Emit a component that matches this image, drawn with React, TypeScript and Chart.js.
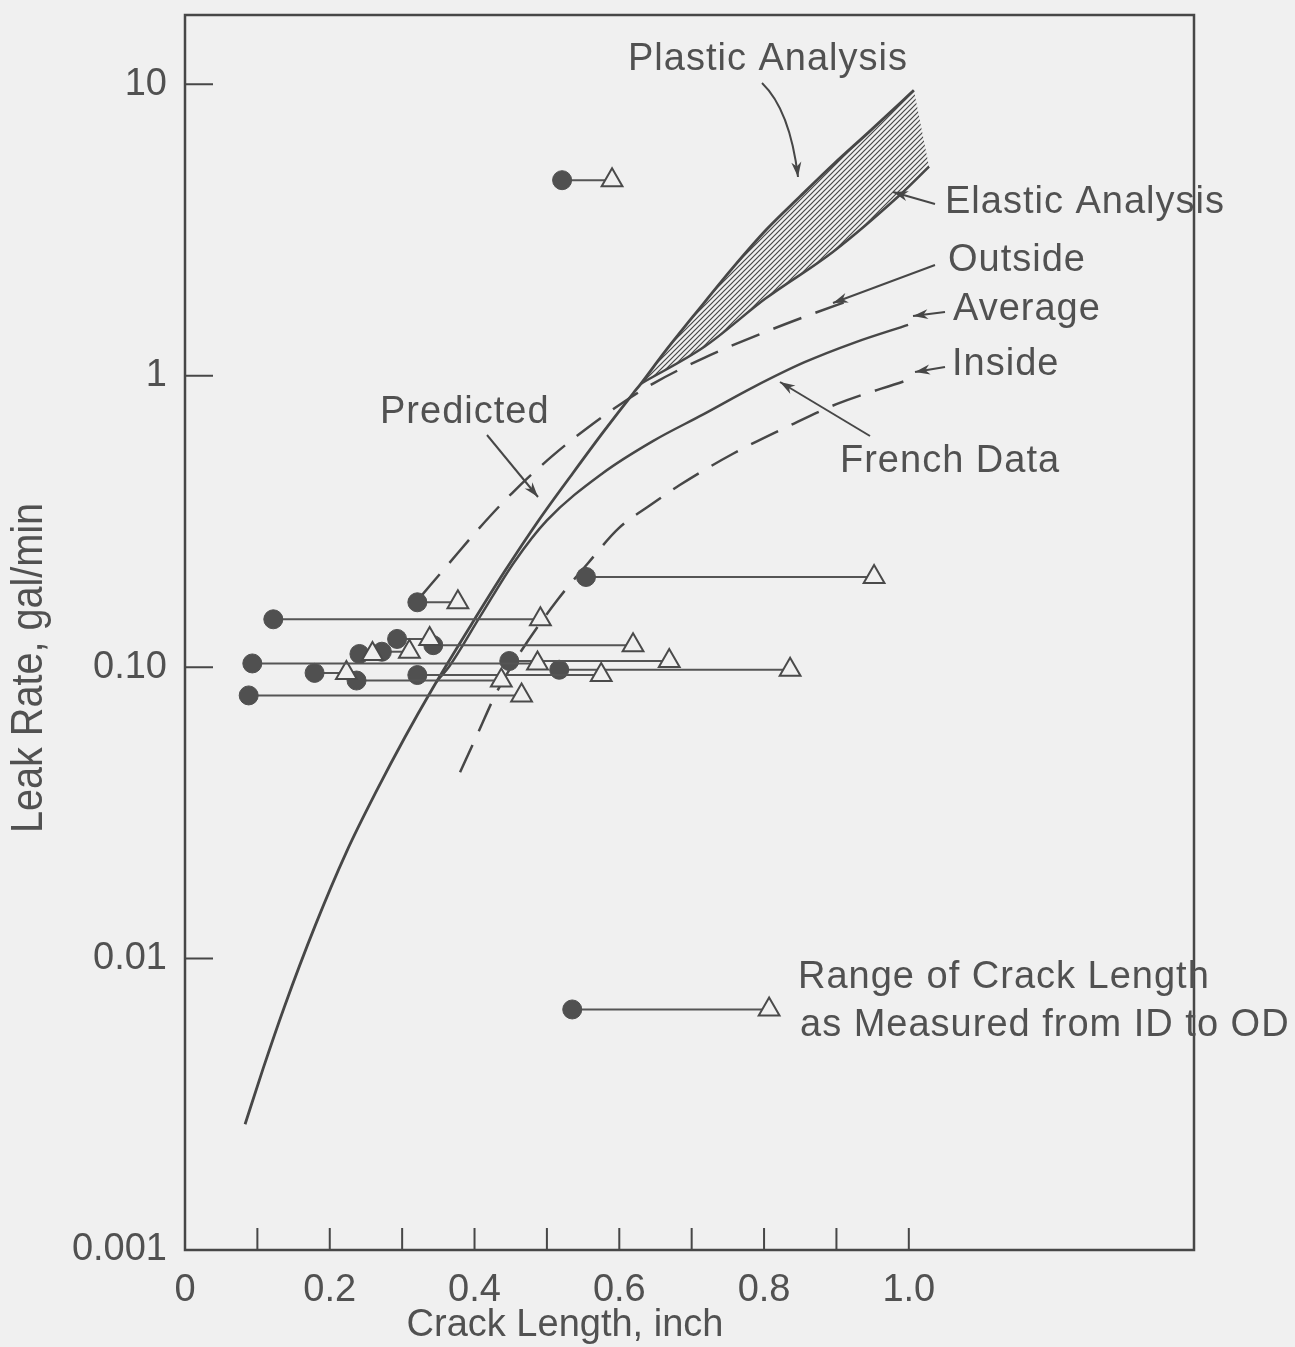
import React, { useEffect, useRef } from 'react';
import { Chart, registerables } from 'chart.js';

Chart.register(...registerables);

// ---- axis ticks ----
const xTickValues = [0, 0.2, 0.4, 0.6, 0.8, 1.0];
const xTickLabels = ['0', '0.2', '0.4', '0.6', '0.8', '1.0'];
const xTickMarks = [0.1, 0.2, 0.3, 0.4, 0.5, 0.6, 0.7, 0.8, 0.9, 1.0];
const yTickValues = [0.001, 0.01, 0.1, 1, 10];
const yTickLabels = ['0.001', '0.01', '0.10', '1', '10'];
const yTickMarks = [0.01, 0.1, 1, 10];

// ---- Predicted curve (continues as the Plastic Analysis upper bound) ----
const predictedX = [0.083, 0.108, 0.137, 0.180, 0.223, 0.266, 0.304, 0.341, 0.394, 0.441, 0.489, 0.536, 0.578, 0.620, 0.630, 0.662, 0.709, 0.757, 0.803, 0.850, 0.897, 0.944, 0.990, 1.007];
const predictedY = [0.0027, 0.0042, 0.0068, 0.0130, 0.0232, 0.0382, 0.0576, 0.0837, 0.138, 0.212, 0.320, 0.464, 0.642, 0.876, 0.94, 1.20, 1.68, 2.35, 3.17, 4.13, 5.35, 6.83, 8.72, 9.55];

// ---- Elastic Analysis (lower bound of the hatched band) ----
const elasticX = [0.630, 0.718, 0.802, 0.895, 0.988, 1.028];
const elasticY = [0.94, 1.26, 1.84, 2.66, 4.18, 5.22];

// ---- Outside (dashed) ----
const outsideX = [0.325, 0.364, 0.406, 0.452, 0.508, 0.554, 0.599, 0.648, 0.718, 0.801, 0.857, 0.926];
const outsideY = [0.174, 0.226, 0.299, 0.396, 0.532, 0.657, 0.791, 0.944, 1.155, 1.411, 1.597, 1.845];

// ---- French Data / Average (solid) ----
const frenchX = [0.347, 0.366, 0.408, 0.455, 0.500, 0.577, 0.647, 0.716, 0.786, 0.856, 0.925, 0.999];
const frenchY = [0.0889, 0.1014, 0.1496, 0.2297, 0.319, 0.463, 0.598, 0.737, 0.916, 1.113, 1.30, 1.495];

// ---- Inside (dashed) ----
const insideX = [0.380, 0.405, 0.430, 0.462, 0.515, 0.557, 0.599, 0.645, 0.683, 0.757, 0.836, 0.900, 0.993];
const insideY = [0.0436, 0.0596, 0.0815, 0.1112, 0.1707, 0.2278, 0.2994, 0.363, 0.421, 0.540, 0.676, 0.799, 0.957];

// ---- Measured leaks: crack length range ID (circle) to OD (triangle) ----
const pairLeakRate = [4.69, 0.204, 0.167, 0.146, 0.103, 0.080, 0.0956, 0.111, 0.113, 0.125, 0.119, 0.090, 0.094, 0.105, 0.098];
const pairCircleX = [0.521, 0.554, 0.321, 0.122, 0.093, 0.088, 0.179, 0.241, 0.272, 0.293, 0.343, 0.237, 0.321, 0.448, 0.517];
const pairTriangleX = [0.590, 0.952, 0.377, 0.491, 0.487, 0.465, 0.223, 0.259, 0.310, 0.338, 0.619, 0.437, 0.575, 0.669, 0.836];

// ---- key sample ----
const keyLeakRate = [0.00669];
const keyCircleX = [0.535];
const keyTriangleX = [0.807];

const FONT = '"Liberation Sans", Arial, Helvetica, sans-serif';
const INK = '#474747';
const TEXT = '#515151';
const BG = '#f0f0f0';

const toPts = (xs: number[], ys: number[]) => xs.map((x, i) => ({ x, y: ys[i] }));

function drawArrowHead(ctx: CanvasRenderingContext2D, fx: number, fy: number, tx: number, ty: number) {
  const a = Math.atan2(ty - fy, tx - fx);
  const len = 15;
  const w = 5;
  ctx.beginPath();
  ctx.moveTo(tx, ty);
  ctx.lineTo(tx - len * Math.cos(a) + w * Math.sin(a), ty - len * Math.sin(a) - w * Math.cos(a));
  ctx.lineTo(tx - len * 0.7 * Math.cos(a), ty - len * 0.7 * Math.sin(a));
  ctx.lineTo(tx - len * Math.cos(a) - w * Math.sin(a), ty - len * Math.sin(a) + w * Math.cos(a));
  ctx.closePath();
  ctx.fill();
}

function arrow(ctx: CanvasRenderingContext2D, x1: number, y1: number, x2: number, y2: number) {
  ctx.beginPath();
  ctx.moveTo(x1, y1);
  ctx.lineTo(x2, y2);
  ctx.stroke();
  drawArrowHead(ctx, x1, y1, x2, y2);
}

function label(ctx: CanvasRenderingContext2D, s: string, x: number, y: number) {
  ctx.save();
  ctx.font = `38px ${FONT}`;
  (ctx as any).letterSpacing = '1px';
  ctx.fillStyle = TEXT;
  ctx.textAlign = 'left';
  ctx.textBaseline = 'alphabetic';
  ctx.fillText(s, x, y);
  ctx.restore();
}

const decor = {
  id: 'decor',
  beforeDraw(chart: any) {
    const { ctx, width, height } = chart;
    ctx.save();
    ctx.fillStyle = BG;
    ctx.fillRect(0, 0, width, height);
    ctx.restore();
  },
  beforeDatasetsDraw(chart: any) {
    const { ctx } = chart;
    const xs = chart.scales.x;
    const ys = chart.scales.y;
    const start = predictedX.indexOf(elasticX[0]);
    const pc = document.createElement('canvas');
    pc.width = 5;
    pc.height = 5;
    const p = pc.getContext('2d')!;
    p.strokeStyle = INK;
    p.lineWidth = 1.2;
    p.beginPath();
    p.moveTo(0, 5); p.lineTo(5, 0);
    p.moveTo(-1, 1); p.lineTo(1, -1);
    p.moveTo(4, 6); p.lineTo(6, 4);
    p.stroke();
    const pattern = ctx.createPattern(pc, 'repeat');
    ctx.save();
    ctx.beginPath();
    for (let i = start; i < predictedX.length; i++) {
      const px = xs.getPixelForValue(predictedX[i]);
      const py = ys.getPixelForValue(predictedY[i]);
      if (i === start) ctx.moveTo(px, py); else ctx.lineTo(px, py);
    }
    for (let i = elasticX.length - 1; i >= 0; i--) {
      ctx.lineTo(xs.getPixelForValue(elasticX[i]), ys.getPixelForValue(elasticY[i]));
    }
    ctx.closePath();
    ctx.fillStyle = pattern;
    ctx.fill();
    ctx.restore();
  },
  afterDraw(chart: any) {
    const { ctx, chartArea: a } = chart;
    const xs = chart.scales.x;
    const ys = chart.scales.y;
    ctx.save();
    ctx.strokeStyle = INK;
    ctx.fillStyle = INK;
    ctx.lineWidth = 2.5;
    ctx.strokeRect(a.left, a.top, a.right - a.left, a.bottom - a.top);
    ctx.lineWidth = 2;
    ctx.beginPath();
    xTickMarks.forEach((v) => {
      const px = xs.getPixelForValue(v);
      ctx.moveTo(px, a.bottom);
      ctx.lineTo(px, a.bottom - 22);
    });
    yTickMarks.forEach((v) => {
      const py = ys.getPixelForValue(v);
      ctx.moveTo(a.left, py);
      ctx.lineTo(a.left + 28, py);
    });
    ctx.stroke();

    // axis titles
    ctx.fillStyle = TEXT;
    ctx.font = `38px ${FONT}`;
    ctx.textAlign = 'center';
    ctx.textBaseline = 'alphabetic';
    ctx.fillText('Crack Length, inch', 565, 1336);
    ctx.save();
    ctx.translate(42, 668);
    ctx.rotate(-Math.PI / 2);
    ctx.scale(0.9, 1);
    ctx.font = `44px ${FONT}`;
    ctx.fillText('Leak Rate, gal/min', 0, 0);
    ctx.restore();

    // annotations
    label(ctx, 'Plastic Analysis', 628, 70);
    label(ctx, 'Elastic Analysis', 945, 213);
    label(ctx, 'Outside', 948, 271);
    label(ctx, 'Average', 953, 320);
    label(ctx, 'Inside', 952, 375);
    label(ctx, 'French Data', 840, 472);
    label(ctx, 'Predicted', 380, 423);
    label(ctx, 'Range of Crack Length', 798, 988);
    label(ctx, 'as Measured from ID to OD', 800, 1036);

    ctx.strokeStyle = INK;
    ctx.fillStyle = INK;
    ctx.lineWidth = 2;
    ctx.beginPath();
    ctx.moveTo(762, 83);
    ctx.quadraticCurveTo(790, 110, 798, 177);
    ctx.stroke();
    drawArrowHead(ctx, 795, 150, 798, 177);
    arrow(ctx, 935, 204, 893, 192);
    arrow(ctx, 935, 265, 833, 303);
    arrow(ctx, 945, 312, 913, 316);
    arrow(ctx, 945, 367, 915, 372);
    arrow(ctx, 870, 436, 780, 382);
    arrow(ctx, 487, 435, 538, 497);
    ctx.restore();
  },
};

const curveStyle = {
  borderColor: INK,
  borderWidth: 2.5,
  pointRadius: 0,
  fill: false,
  cubicInterpolationMode: 'monotone' as const,
};

const pairStyle = {
  borderColor: '#555555',
  borderWidth: 2,
  pointStyle: ['circle', 'triangle'],
  pointRadius: [9.5, 12],
  pointBackgroundColor: ['#505050', BG],
  pointBorderColor: ['#505050', '#4a4a4a'],
  pointBorderWidth: [1, 2],
  fill: false,
  tension: 0,
};

export default function App() {
  const ref = useRef<HTMLCanvasElement>(null);
  useEffect(() => {
    document.body.style.margin = '0';
    document.body.style.background = BG;
    const pairSets = pairLeakRate.map((r, i) => ({
      data: [{ x: pairCircleX[i], y: r }, { x: pairTriangleX[i], y: r }],
      ...pairStyle,
    }));
    const keySets = keyLeakRate.map((r, i) => ({
      data: [{ x: keyCircleX[i], y: r }, { x: keyTriangleX[i], y: r }],
      ...pairStyle,
    }));
    const chart = new Chart(ref.current!, {
      type: 'line',
      data: {
        datasets: [
          ...pairSets,
          ...keySets,
          { data: toPts(predictedX, predictedY), ...curveStyle, borderWidth: 2.8 },
          { data: toPts(elasticX, elasticY), ...curveStyle },
          { data: toPts(outsideX, outsideY), ...curveStyle, borderDash: [30, 15] },
          { data: toPts(frenchX, frenchY), ...curveStyle },
          { data: toPts(insideX, insideY), ...curveStyle, borderDash: [30, 15] },
        ] as any,
      },
      options: {
        responsive: false,
        animation: false,
        events: [],
        layout: { padding: { top: 15, right: 101, bottom: 0, left: 0 } },
        plugins: { legend: { display: false }, tooltip: { enabled: false } },
        scales: {
          x: {
            type: 'linear',
            min: 0,
            max: 1.394,
            grid: { display: false },
            border: { display: false },
            afterFit: (s: any) => { s.height = 97; s.paddingLeft = 0; s.paddingRight = 0; },
            afterBuildTicks: (s: any) => { s.ticks = xTickValues.map((v) => ({ value: v })); },
            ticks: {
              autoSkip: false,
              maxRotation: 0,
              padding: 10,
              color: TEXT,
              font: { family: FONT, size: 38 },
              callback: (_v: any, i: number) => xTickLabels[i],
            },
          },
          y: {
            type: 'logarithmic',
            min: 0.001,
            max: 17.3,
            grid: { display: false },
            border: { display: false },
            afterFit: (s: any) => { s.width = 185; s.paddingTop = 0; s.paddingBottom = 0; },
            afterBuildTicks: (s: any) => { s.ticks = yTickValues.map((v) => ({ value: v })); },
            ticks: {
              autoSkip: false,
              padding: 10,
              color: TEXT,
              font: { family: FONT, size: 38 },
              callback: (_v: any, i: number) => yTickLabels[i],
            },
          },
        },
      } as any,
      plugins: [decor],
    });
    return () => chart.destroy();
  }, []);
  return (
    <div style={{ width: 1295, height: 1347 }}>
      <canvas ref={ref} width={1295} height={1347} style={{ display: 'block', width: 1295, height: 1347 }} />
    </div>
  );
}
